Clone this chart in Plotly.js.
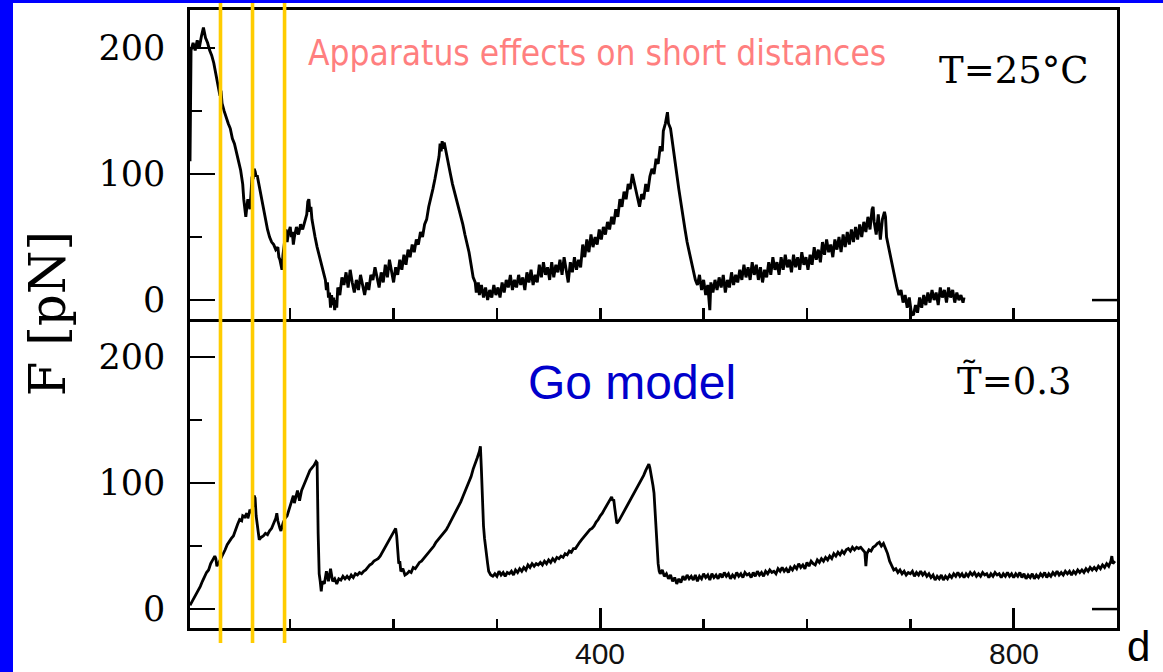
<!DOCTYPE html>
<html>
<head>
<meta charset="utf-8">
<script src="https://cdn.plot.ly/plotly-3.0.1.min.js"></script>
<style>
  html, body { margin:0; padding:0; width:1163px; height:672px; overflow:hidden; background:#0000FF; }
  #chart { position:absolute; left:13px; top:3px; width:1150px; height:669px; background:#fff; }
</style>
</head>
<body>
<div id="chart"></div>
<script>
// ---- data: [d, F(pN)] ----
const experiment = [[3,110],[3.5,160],[4,198],[6,204],[8,198],[10,206],[12,200],[14,209],[16,216],[18,208],[20,204],[22,198],[24,194],[26,188],[28,180],[30,172],[32,162],[33,166],[34,156],[36,150],[38,144],[40,140],[42,136],[44,128],[46,124],[48,118],[50,110],[52,103],[54,92],[55,80],[56,70],[57,66],[58,74],[59,80],[60,76],[61,72],[62,84],[63,98],[64,96],[65,104],[66,102],[67,98],[68,99],[70,90],[72,82],[74,74],[76,64],[78,56],[80,50],[82,46],[84,44],[86,40],[88,42],[89,34],[90,32],[91,26],[92,24],[93,36],[95,52],[96,56],[97,46],[98,52],[100,58],[101,50],[102,54],[103,44],[104,50],[106,58],[108,52],[110,60],[112,56],[114,62],[116,68],[117,78],[118,80],[119,70],[120,74],[121,64],[122,58],[124,50],[126,42],[128,36],[130,28],[132,24],[134,16],[135,8],[136,14],[137,2],[138,6],[139,-6],[140,4],[141,-4],[142,2],[143,-8],[144,0],[145,-6],[146,10],[148,4],[150,18],[152,12],[154,22],[156,10],[158,24],[160,14],[162,6],[164,16],[166,8],[168,20],[170,12],[172,4],[174,14],[176,8],[178,20],[180,16],[182,26],[184,18],[186,10],[188,22],[190,14],[192,28],[194,18],[196,32],[198,22],[200,14],[202,26],[204,20],[206,32],[208,24],[210,36],[212,28],[214,40],[216,34],[218,44],[220,38],[222,48],[224,44],[226,54],[228,50],[230,60],[232,64],[234,74],[236,80],[238,88],[240,96],[242,104],[244,114],[245,124],[246,118],[247,126],[248,120],[249,125],[251,116],[253,106],[255,100],[257,92],[259,86],[261,78],[263,72],[265,66],[267,60],[269,52],[271,46],[273,38],[275,28],[277,18],[279,14],[280,6],[282,14],[283,4],[285,12],[287,2],[289,10],[291,0],[293,8],[295,2],[297,12],[299,4],[301,10],[303,2],[305,14],[307,6],[309,16],[311,10],[313,20],[315,8],[317,16],[319,10],[321,20],[323,12],[325,18],[327,8],[329,22],[331,14],[333,24],[335,12],[337,20],[339,14],[341,28],[343,18],[345,30],[347,20],[349,26],[351,16],[353,30],[355,18],[357,28],[359,22],[361,32],[363,20],[365,34],[367,24],[369,14],[371,30],[373,22],[375,34],[377,24],[379,32],[381,26],[383,44],[385,34],[387,48],[389,38],[391,52],[393,42],[395,50],[397,44],[399,56],[401,48],[403,58],[405,52],[407,62],[409,56],[411,66],[413,60],[415,72],[417,66],[419,80],[421,74],[423,86],[425,80],[427,92],[429,88],[431,100],[433,92],[435,84],[437,78],[438,74],[440,84],[442,80],[444,92],[446,86],[448,98],[450,104],[452,100],[454,112],[456,108],[458,122],[460,118],[461,134],[463,140],[464,144],[465,149],[466,140],[468,136],[470,124],[472,110],[474,100],[476,88],[478,76],[480,66],[482,56],[484,46],[486,38],[488,30],[490,22],[492,16],[494,12],[496,20],[498,8],[500,16],[502,4],[504,12],[506,-8],[507,14],[509,6],[511,16],[513,8],[515,18],[517,10],[519,20],[521,6],[523,16],[525,10],[527,22],[529,12],[531,20],[533,14],[535,24],[537,16],[539,28],[541,18],[543,26],[545,16],[547,30],[549,20],[551,28],[553,16],[555,26],[557,14],[559,24],[561,18],[563,30],[565,20],[567,34],[569,24],[571,30],[573,20],[575,34],[577,24],[579,36],[581,26],[583,32],[585,22],[587,36],[589,26],[591,34],[593,24],[595,38],[597,28],[599,34],[601,24],[603,36],[605,28],[607,42],[609,32],[611,40],[613,30],[615,46],[617,36],[619,48],[621,38],[623,44],[625,34],[627,48],[629,40],[631,50],[633,38],[635,52],[637,42],[639,54],[641,44],[643,56],[645,46],[647,58],[649,48],[651,60],[653,50],[655,62],[657,54],[659,66],[661,56],[663,72],[664,74],[665,62],[667,52],[669,68],[671,48],[673,64],[675,70],[676,66],[677,50],[679,42],[681,32],[683,24],[685,16],[687,10],[689,4],[691,8],[693,-2],[695,4],[697,-6],[699,2],[701,-10],[703,-12],[705,-4],[707,-10],[709,2],[711,-6],[713,4],[715,-4],[717,6],[719,-2],[721,8],[723,0],[725,6],[727,-4],[729,10],[731,2],[733,8],[735,-2],[737,10],[739,2],[741,8],[743,-2],[745,6],[747,0],[749,4],[751,-2],[752,2]];

const goModel = [[3,3],[5,6],[7,8],[9,11],[11,14],[13,18],[15,22],[17,26],[19,29],[21,31],[23,36],[25,39],[27,42],[28,40],[29,34],[31,37],[33,40],[35,43],[37,47],[39,51],[41,54],[43,56],[45,58],[47,63],[49,67],[51,71],[53,70],[54,74],[56,73],[58,76],[59,72],[60,75],[61,79],[62,76],[64,82],[65,90],[66,88],[67,74],[68,66],[69,60],[70,55],[72,57],[74,58],[76,60],[78,59],[80,62],[82,64],[84,68],[86,72],[87,76],[88,70],[90,64],[91,62],[93,68],[95,72],[97,74],[99,80],[101,84],[103,90],[104,84],[105,88],[107,94],[109,86],[111,94],[113,98],[115,102],[117,106],[119,110],[121,112],[123,114],[125,117],[126,116],[127,60],[128,28],[129,22],[130,14],[131,22],[133,20],[135,30],[137,22],[139,32],[141,22],[143,24],[145,20],[147,24],[149,23],[151,26],[153,24],[155,26],[157,24],[159,27],[161,25],[163,28],[165,27],[167,29],[169,28],[171,30],[173,31],[175,33],[177,35],[179,36],[181,38],[183,39],[185,40],[187,42],[189,45],[191,48],[193,51],[195,54],[197,57],[199,60],[201,62],[202,64],[203,58],[204,42],[205,36],[206,38],[207,30],[209,32],[211,27],[213,28],[215,30],[217,29],[219,33],[221,32],[223,35],[225,37],[227,38],[229,40],[231,42],[233,44],[235,46],[237,48],[239,50],[241,53],[243,55],[245,57],[247,59],[249,61],[251,63],[253,66],[255,69],[257,72],[259,75],[261,78],[263,82],[265,85],[267,89],[269,93],[271,97],[273,101],[275,105],[277,111],[279,115],[281,120],[283,125],[284,129],[285,110],[286,80],[287,66],[288,56],[289,48],[290,44],[291,36],[292,30],[294,27],[296,26],[298,28],[300,26],[302,30],[304,27],[306,29],[308,26],[310,29],[312,28],[314,30],[316,27],[318,31],[320,29],[322,32],[324,30],[326,33],[328,31],[330,35],[332,33],[334,36],[336,34],[338,36],[340,35],[342,37],[344,35],[346,38],[348,36],[350,39],[352,37],[354,40],[356,38],[358,41],[360,40],[362,42],[364,41],[366,44],[368,43],[370,46],[372,45],[374,48],[376,48],[378,51],[380,53],[382,55],[384,57],[386,59],[388,61],[390,63],[392,64],[394,66],[396,69],[398,71],[400,74],[402,76],[404,79],[406,82],[408,84],[410,88],[411,89],[412,86],[413,87],[414,80],[415,72],[416,68],[418,70],[420,73],[422,76],[424,79],[426,82],[428,85],[430,88],[432,91],[434,94],[436,96],[438,99],[440,102],[442,106],[444,110],[446,114],[447,115],[448,112],[449,108],[450,102],[451,98],[452,92],[453,78],[454,60],[455,46],[456,36],[457,30],[458,28],[460,31],[462,26],[464,28],[466,24],[468,27],[470,22],[472,25],[474,20],[476,24],[478,21],[480,26],[482,23],[484,27],[486,24],[488,26],[490,23],[492,27],[494,22],[496,26],[498,24],[500,28],[502,25],[504,27],[506,23],[508,28],[510,25],[512,27],[514,24],[516,28],[518,25],[520,29],[522,26],[524,28],[526,24],[528,27],[530,25],[532,29],[534,26],[536,28],[538,25],[540,29],[542,27],[544,28],[546,25],[548,29],[550,26],[552,30],[554,27],[556,29],[558,26],[560,30],[562,28],[564,31],[566,29],[568,30],[570,28],[572,32],[574,30],[576,33],[578,30],[580,32],[582,29],[584,33],[586,31],[588,34],[590,32],[592,36],[594,33],[596,35],[598,32],[600,37],[602,34],[604,38],[606,36],[608,35],[610,39],[612,37],[614,40],[616,38],[618,41],[620,39],[622,42],[624,40],[626,44],[628,42],[630,45],[632,43],[634,46],[636,44],[638,47],[640,48],[642,46],[644,49],[646,47],[648,49],[650,48],[652,49],[654,47],[656,45],[657,34],[658,44],[660,47],[662,46],[664,49],[666,50],[668,52],[670,53],[672,50],[674,52],[676,48],[678,44],[680,38],[682,34],[684,31],[686,32],[688,29],[690,31],[692,28],[694,30],[696,27],[698,29],[700,28],[702,30],[704,26],[706,29],[708,27],[710,30],[712,27],[714,29],[716,26],[718,28],[720,25],[722,27],[724,23],[726,26],[728,24],[730,27],[732,23],[734,26],[736,24],[738,27],[740,25],[742,28],[744,26],[746,29],[748,26],[750,28],[752,25],[754,28],[756,26],[758,29],[760,27],[762,29],[764,26],[766,28],[768,26],[770,29],[772,27],[774,28],[776,25],[778,28],[780,26],[782,29],[784,27],[786,28],[788,25],[790,28],[792,26],[794,29],[796,26],[798,28],[800,25],[802,28],[804,26],[806,29],[808,25],[810,28],[812,24],[814,27],[816,25],[818,28],[820,24],[822,27],[824,25],[826,28],[828,26],[830,29],[832,25],[834,28],[836,26],[838,29],[840,27],[842,30],[844,27],[846,29],[848,27],[850,30],[852,28],[854,30],[856,27],[858,30],[860,28],[862,31],[864,29],[866,31],[868,29],[870,32],[872,30],[874,33],[876,31],[878,33],[880,31],[882,34],[884,32],[886,35],[888,33],[890,36],[892,34],[894,38],[895,42],[896,36],[898,38]];

const markerD = [32.5, 63.5, 94.5];          // yellow vertical lines
const forceTicks = [0, 100, 200];
const distTicks = [400, 800];
const distTickText = ['400', '800'];
const distRange = [3, 900];
const forceRange = [-15, 230];

const serif = 'DejaVu Serif, Liberation Serif, serif';
const sans = 'Liberation Sans, Arial, sans-serif';

const traces = [
  { x: experiment.map(p => p[0]), y: experiment.map(p => p[1]), xaxis: 'x2', yaxis: 'y',
    mode: 'lines', line: { color: '#000', width: 2.9 }, hoverinfo: 'skip' },
  { x: goModel.map(p => p[0]), y: goModel.map(p => p[1]), xaxis: 'x', yaxis: 'y2',
    mode: 'lines', line: { color: '#000', width: 2.8 }, hoverinfo: 'skip' }
];

const yCommon = {
  range: forceRange, tickvals: forceTicks, ticks: 'inside', ticklen: 25, tickwidth: 2.5, tickcolor: '#000',
  minor: { dtick: 50, tick0: 0, ticks: 'inside', ticklen: 12, tickwidth: 2.5, tickcolor: '#000' },
  tickfont: { family: serif, size: 35, color: '#000' }, ticklabelstandoff: 15,
  showline: true, linewidth: 2.6, linecolor: '#000', mirror: true,
  showgrid: false, zeroline: false, fixedrange: true
};

const shapes = markerD.map(d => ({
  type: 'line', xref: 'x', yref: 'paper', x0: d, x1: d, y0: -0.0243, y1: 1.012,
  line: { color: '#FFCC00', width: 3.6 }, layer: 'above'
}));
['y', 'y2'].forEach(yr => shapes.push({
  type: 'line', xref: 'paper', yref: yr, x0: 1 - 25 / 927, x1: 1, y0: 0, y1: 0,
  line: { color: '#000', width: 2.5 }
}));

const annotations = [
  { text: 'Apparatus effects on short distances', xref: 'x2', yref: 'y', x: 397, y: 196,
    showarrow: false, font: { family: 'DejaVu Sans Condensed, Liberation Sans Narrow, Roboto Condensed, Roboto, sans-serif', size: 35, color: '#FF7F7F' } },
  { text: 'T=25°C', xref: 'x2', yref: 'y', x: 800, y: 182,
    showarrow: false, font: { family: serif, size: 37, color: '#000' } },
  { text: 'Go model', xref: 'x', yref: 'y2', x: 431, y: 180,
    showarrow: false, font: { family: sans, size: 48, color: '#0000CC' } },
  { text: 'T\u0303=0.3', xref: 'x', yref: 'y2', x: 801, y: 181,
    showarrow: false, font: { family: serif, size: 37, color: '#000' } },
  { text: 'F [pN]', xref: 'paper', yref: 'paper', x: -0.153, y: 0.508, textangle: -90,
    xanchor: 'center', yanchor: 'middle',
    showarrow: false, font: { family: serif, size: 50, color: '#000' } },
  { text: 'd', xref: 'paper', yref: 'paper', x: 1.0227, y: -0.0299,
    xanchor: 'center', yanchor: 'middle', borderpad: 0,
    showarrow: false, font: { family: sans, size: 42, color: '#000' } }
];
distTicks.forEach((v, i) => annotations.push({
  text: distTickText[i], xref: 'x', yref: 'paper', x: v, y: -0.042,
  xanchor: 'center', yanchor: 'middle', showarrow: false, borderpad: 0,
  font: { family: sans, size: 30, color: '#111' }
}));

const layout = {
  width: 1150, height: 669,
  margin: { l: 177, r: 46, t: 7, b: 44 },
  paper_bgcolor: '#fff', plot_bgcolor: '#fff',
  showlegend: false,
  xaxis: {
    anchor: 'y2', domain: [0, 1], range: distRange, tickvals: distTicks, showticklabels: false,
    ticks: 'inside', ticklen: 20, tickwidth: 2.5, tickcolor: '#000',
    minor: { dtick: 100, tick0: 0, ticks: 'inside', ticklen: 9, tickwidth: 2.5, tickcolor: '#000' },
    showline: true, linewidth: 2.6, linecolor: '#000', mirror: false,
    showgrid: false, zeroline: false, fixedrange: true
  },
  xaxis2: {
    anchor: 'y', domain: [0, 1], range: distRange, dtick: 100, tick0: 0,
    ticks: 'inside', ticklen: 11, tickwidth: 2.5, tickcolor: '#000', showticklabels: false,
    showline: true, linewidth: 2.6, linecolor: '#000', mirror: true,
    showgrid: false, zeroline: false, fixedrange: true
  },
  yaxis: Object.assign({}, yCommon, { domain: [0.5, 1], anchor: 'x2' }),
  yaxis2: Object.assign({}, yCommon, { domain: [0, 0.5], anchor: 'x' }),
  shapes: shapes,
  annotations: annotations
};

Plotly.newPlot('chart', traces, layout, { staticPlot: true, displayModeBar: false });
</script>
</body>
</html>
